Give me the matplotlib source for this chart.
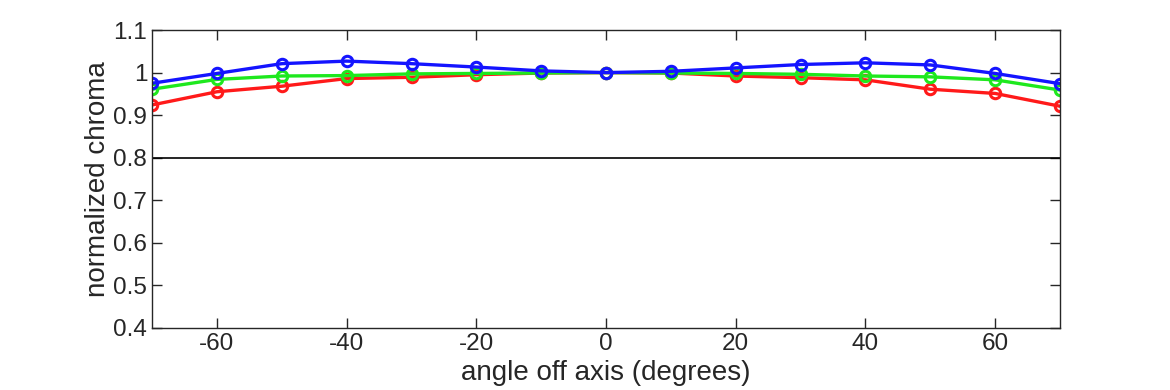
import numpy as np
import matplotlib
matplotlib.use("Agg")
import matplotlib.pyplot as plt

plt.rcParams['font.family'] = ['Liberation Sans', 'DejaVu Sans']
plt.rcParams['axes.unicode_minus'] = False

angles = [-70, -60, -50, -40, -30, -20, -10, 0, 10, 20, 30, 40, 50, 60, 70]
red = [0.924, 0.955, 0.968, 0.986, 0.989, 0.995, 0.999, 1.0, 0.999, 0.992, 0.988, 0.983, 0.961, 0.951, 0.921]
green = [0.961, 0.984, 0.992, 0.993, 0.997, 0.998, 0.999, 1.0, 0.999, 0.998, 0.996, 0.992, 0.990, 0.983, 0.959]
blue = [0.975, 0.998, 1.021, 1.027, 1.021, 1.013, 1.004, 1.0, 1.003, 1.011, 1.019, 1.023, 1.018, 0.998, 0.974]

fig = plt.figure(figsize=(11.7, 3.9), dpi=100)
ax = fig.add_axes([0.130, 0.159, 0.776, 0.764])

ax.axhline(0.8, color='black', linewidth=1.2)
for vals, col in [(red, '#ff1a1a'), (green, '#1ee81e'), (blue, '#1414ff')]:
    ax.plot(angles, vals, color=col, linewidth=2.4, marker='o', markersize=7.5,
            markerfacecolor='none', markeredgewidth=2.2)

ax.set_xlim(-70, 70)
ax.set_ylim(0.4, 1.1)
ax.set_xticks([-60, -40, -20, 0, 20, 40, 60])
ax.set_yticks([0.4, 0.5, 0.6, 0.7, 0.8, 0.9, 1.0, 1.1])
ax.set_yticklabels(['0.4', '0.5', '0.6', '0.7', '0.8', '0.9', '1', '1.1'])
ax.tick_params(direction='in', top=True, right=True, length=7, width=1,
               labelsize=17.5, colors='#262626')
for s in ax.spines.values():
    s.set_color('#262626')
    s.set_linewidth(1)
ax.set_xlabel('angle off axis (degrees)', fontsize=20, color='#262626', labelpad=4)
ax.set_ylabel('normalized chroma', fontsize=20, color='#262626', labelpad=2)

fig.savefig('out.png', dpi=100)
